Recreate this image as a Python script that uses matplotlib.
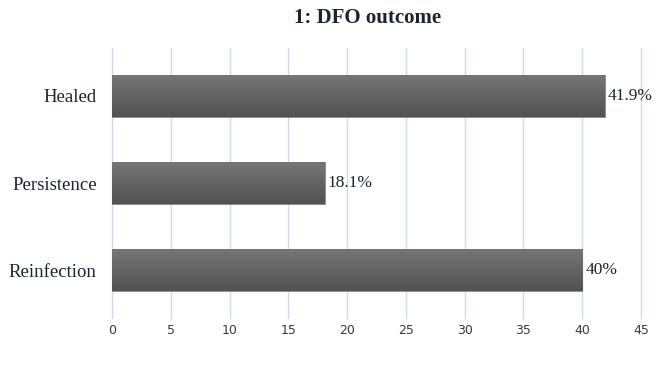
import numpy as np
import matplotlib.pyplot as plt
from matplotlib.colors import LinearSegmentedColormap

# Data
categories = ["Healed", "Persistence", "Reinfection"]
values = [41.9, 18.1, 40.0]
value_labels = ["41.9%", "18.1%", "40%"]
x_ticks = [0, 5, 10, 15, 20, 25, 30, 35, 40, 45]

text_color = "#1c2433"
grid_color = "#c9d8ec"

fig = plt.figure(figsize=(6.69, 3.67), dpi=100)
ax = fig.add_axes([0.1674, 0.1335, 0.7908, 0.7355])

y = np.arange(len(categories))
bars = ax.barh(y, values, height=0.49, color="#646464", edgecolor="#8a8a8a", linewidth=0.6, zorder=3)

# vertical gradient inside each bar (lighter on top, darker at bottom)
grad_cmap = LinearSegmentedColormap.from_list("bar_grad", ["#777777", "#525252"])
gradient = np.linspace(0, 1, 100).reshape(-1, 1)
for bar in bars:
    x0, y0 = bar.get_x(), bar.get_y()
    w, h = bar.get_width(), bar.get_height()
    im = ax.imshow(gradient, cmap=grad_cmap, aspect="auto",
                   extent=[x0, x0 + w, y0 + h, y0], zorder=3.5)
    im.set_clip_path(bar)

for yi, v, lab in zip(y, values, value_labels):
    ax.text(v + 0.25, yi, lab, va="center", ha="left", fontsize=12.5,
            family="Liberation Serif", color=text_color, zorder=5)

ax.set_xlim(0, 45)
ax.set_ylim(2.55, -0.55)
ax.set_xticks(x_ticks)
ax.set_xticklabels([str(t) for t in x_ticks], fontsize=9, color="#333a45")
ax.set_yticks(y)
ax.set_yticklabels(categories, fontsize=13.5, family="Liberation Serif", color=text_color)

ax.grid(axis="x", color=grid_color, linewidth=1.0, zorder=0)
for gl in ax.get_xgridlines():
    gl.set_clip_on(False)
for s in ax.spines.values():
    s.set_visible(False)
ax.tick_params(axis="both", length=0)
ax.tick_params(axis="x", pad=4)
ax.tick_params(axis="y", pad=11)

fig.text(368 / 669, 1 - 18 / 367, "1: DFO outcome", ha="center", va="center",
         fontsize=15, fontweight="bold", family="Liberation Serif", color=text_color)

fig.savefig("out.png", dpi=100)
